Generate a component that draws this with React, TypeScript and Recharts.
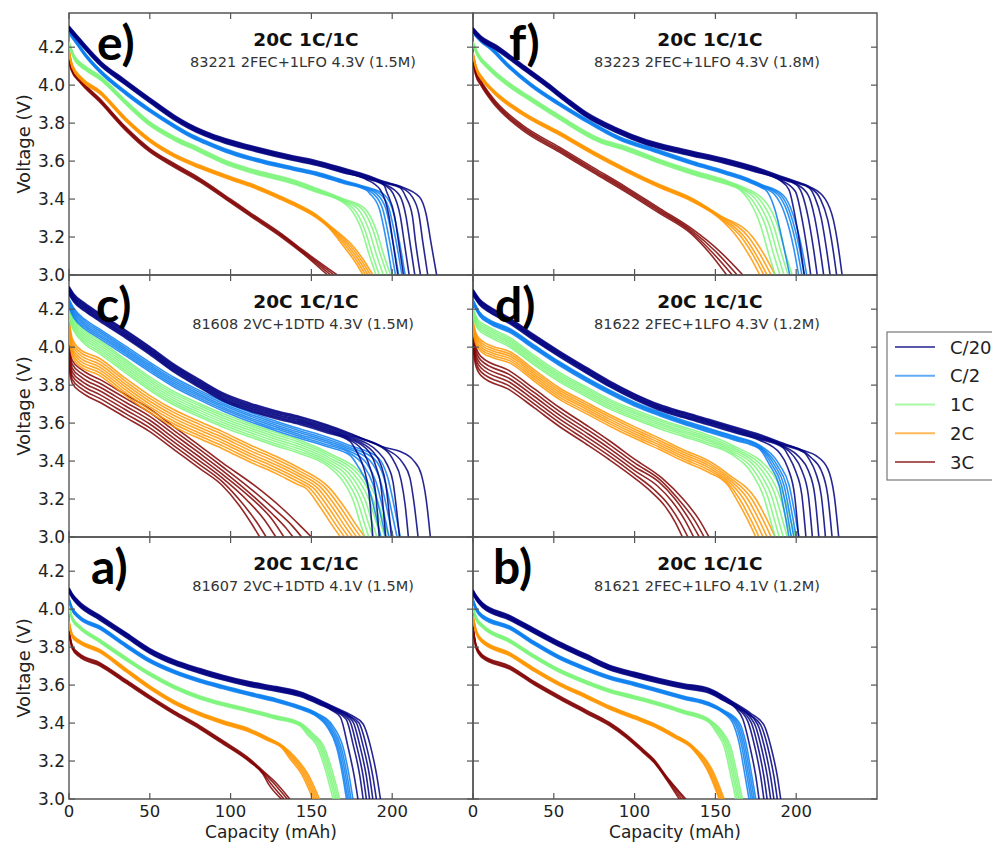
import { LineChart, Line, XAxis, YAxis, ReferenceArea } from 'recharts';

type Pt = [number, number];
interface Group { body: Pt[]; shift: number[]; tails: Pt[][] }

const RATES = ['C/20', 'C/2', '1C', '2C', '3C'];
const RATE_COLORS = ['#000080', '#0a7ff0', '#7cf57a', '#ff9500', '#800000'];
const X_TICKS = [0, 50, 100, 150, 200];
const Y_TICKS = [3.0, 3.2, 3.4, 3.6, 3.8, 4.0, 4.2];
const X_MAX = 250;
const Y_MIN = 3.0;
const Y_MAX = 4.38;
const TITLE = '20C 1C/1C';

// panel e) 83221
const E_C20: Group = {
  body: [[0, 4.3], [5, 4.25], [10, 4.2], [20, 4.11], [34, 4.02], [50, 3.92], [65, 3.83], [74, 3.785], [84, 3.745], [97, 3.705], [112, 3.67], [139, 3.615], [153, 3.59], [170, 3.55], [184, 3.515], [195, 3.48], [205, 3.455]],
  shift: [0.012, 0.008, 0.004, 0, -0.004, -0.008, -0.012],
  tails: [
    [[217, 3.41], [221, 3.32], [224, 3.17], [227.5, 3.0]],
    [[212.5, 3.41], [216.5, 3.32], [219, 3.17], [222, 3.0]],
    [[208.5, 3.41], [212.5, 3.31], [214.5, 3.17], [217.5, 3.0]],
    [[204.5, 3.42], [208.5, 3.31], [211, 3.17], [214, 3.0]],
    [[200.5, 3.43], [205, 3.31], [207.5, 3.17], [210.5, 3.0]],
    [[196.5, 3.44], [201.5, 3.31], [204, 3.17], [207, 3.0]],
    [[192.5, 3.45], [198, 3.31], [200.5, 3.17], [203.5, 3.0]],
  ],
};
const E_C2: Group = {
  body: [[0, 4.28], [5, 4.22], [10, 4.16], [19, 4.075], [35, 3.96], [50, 3.867], [65, 3.785], [74, 3.74], [84, 3.7], [97, 3.655], [112, 3.615], [139, 3.56], [153, 3.534], [170, 3.49], [184, 3.455]],
  shift: [0.008, 0.004, 0, -0.004, -0.008],
  tails: [
    [[194, 3.43], [200, 3.35], [205, 3.15], [208, 3.0]],
    [[192, 3.43], [198, 3.35], [203, 3.15], [206, 3.0]],
    [[190, 3.43], [196, 3.35], [201, 3.15], [204, 3.0]],
    [[188, 3.43], [194, 3.35], [199, 3.15], [202, 3.0]],
    [[186, 3.43], [192, 3.35], [197, 3.15], [200, 3.0]],
  ],
};
const E_1C: Group = {
  body: [[0, 4.22], [3, 4.15], [10, 4.09], [19, 4.04], [35, 3.91], [50, 3.797], [65, 3.72], [81, 3.657], [95, 3.6], [112, 3.55], [139, 3.49], [153, 3.447], [170, 3.39]],
  shift: [0.01, 0.005, 0, -0.005, -0.01],
  tails: [
    [[183, 3.35], [190, 3.24], [195, 3.1], [199, 3.0]],
    [[181, 3.35], [188, 3.24], [193, 3.1], [197, 3.0]],
    [[178.5, 3.35], [185.5, 3.24], [190.5, 3.1], [194.5, 3.0]],
    [[176, 3.35], [183, 3.24], [188, 3.1], [192, 3.0]],
    [[174, 3.35], [181, 3.24], [186, 3.1], [190, 3.0]],
  ],
};
const E_2C: Group = {
  body: [[0, 4.18], [2, 4.1], [8, 4.03], [19, 3.963], [35, 3.82], [50, 3.709], [65, 3.63], [81, 3.57], [100, 3.51], [112, 3.475], [130, 3.41], [139, 3.375], [153, 3.31], [161, 3.255]],
  shift: [0.008, 0.004, 0, -0.004, -0.008],
  tails: [
    [[176, 3.15], [183, 3.07], [188, 3.0]],
    [[174.5, 3.15], [181.5, 3.07], [186.5, 3.0]],
    [[173, 3.15], [180, 3.07], [185, 3.0]],
    [[171.5, 3.15], [178.5, 3.07], [183.5, 3.0]],
    [[170, 3.15], [177, 3.07], [182, 3.0]],
  ],
};
const E_3C: Group = {
  body: [[0, 4.13], [1.5, 4.086], [6.6, 4.025], [19, 3.92], [35, 3.771], [50, 3.657], [65, 3.578], [81, 3.5], [100, 3.39], [112, 3.32], [132, 3.205], [145, 3.12]],
  shift: [0.009, 0.003, -0.003, -0.009],
  tails: [[[166, 3.0]], [[164, 3.0]], [[162, 3.0]], [[160, 3.0]]],
};

// panel f) 83223
const F_C20: Group = {
  body: [[0, 4.29], [5, 4.245], [14, 4.2], [30, 4.1], [46, 4.0], [58, 3.92], [70, 3.845], [88, 3.765], [107, 3.7], [130, 3.65], [156, 3.6], [175, 3.555], [190, 3.51], [200, 3.48], [208, 3.455]],
  shift: [0.012, 0.008, 0.004, 0, -0.004, -0.008, -0.012],
  tails: [
    [[218, 3.4], [223, 3.29], [226, 3.15], [228.4, 3.0]],
    [[215, 3.4], [219.5, 3.29], [222.5, 3.15], [225, 3.0]],
    [[211.5, 3.41], [215.5, 3.3], [218.5, 3.15], [221, 3.0]],
    [[207.5, 3.42], [211.5, 3.3], [214.5, 3.15], [217, 3.0]],
    [[203.5, 3.43], [207.5, 3.3], [210.5, 3.15], [213, 3.0]],
    [[199.5, 3.44], [203.5, 3.3], [206.5, 3.15], [209, 3.0]],
    [[195.5, 3.45], [199.5, 3.3], [202.5, 3.15], [205, 3.0]],
  ],
};
const F_C2: Group = {
  body: [[0, 4.28], [5, 4.235], [10.3, 4.2], [22, 4.1], [36, 4.0], [53.5, 3.9], [67, 3.83], [90.5, 3.72], [113, 3.655], [136, 3.59], [156, 3.54], [170, 3.5], [178, 3.47]],
  shift: [0.008, 0.004, 0, -0.004, -0.008],
  tails: [
    [[192, 3.42], [198, 3.32], [203.5, 3.14], [206.5, 3.0]],
    [[190.5, 3.42], [196.5, 3.32], [202, 3.14], [205, 3.0]],
    [[189, 3.42], [195, 3.32], [200.5, 3.14], [203.5, 3.0]],
    [[187, 3.42], [193, 3.32], [198.5, 3.14], [201.5, 3.0]],
    [[182, 3.44], [187, 3.34], [192.5, 3.14], [196, 3.0]],
  ],
};
const F_1C: Group = {
  body: [[0, 4.22], [3, 4.16], [10, 4.09], [22.6, 4.0], [35, 3.93], [53.5, 3.83], [78, 3.71], [95, 3.665], [115, 3.6], [136, 3.54], [156, 3.49], [165, 3.46]],
  shift: [0.01, 0.005, 0, -0.005, -0.01],
  tails: [
    [[181.5, 3.38], [188.5, 3.26], [193.5, 3.11], [197.5, 3.0]],
    [[179, 3.38], [186, 3.26], [191, 3.11], [195, 3.0]],
    [[176.5, 3.38], [183.5, 3.26], [188.5, 3.11], [192.5, 3.0]],
    [[174, 3.38], [181, 3.26], [186, 3.11], [190, 3.0]],
    [[171, 3.39], [178, 3.26], [183, 3.11], [187, 3.0]],
  ],
};
const F_2C: Group = {
  body: [[0, 4.165], [2, 4.09], [6, 4.03], [12.3, 3.97], [30, 3.855], [53.5, 3.745], [75, 3.64], [94.7, 3.552], [115, 3.47], [136, 3.394], [152, 3.31]],
  shift: [0.008, 0.004, 0, -0.004, -0.008],
  tails: [
    [[173, 3.2], [180, 3.11], [187, 3.0]],
    [[170.5, 3.2], [177.5, 3.11], [184.5, 3.0]],
    [[168, 3.2], [175, 3.11], [182, 3.0]],
    [[166, 3.2], [173, 3.11], [180, 3.0]],
    [[163.5, 3.2], [170.5, 3.11], [177.5, 3.0]],
  ],
};
const F_3C: Group = {
  body: [[0, 4.14], [1.5, 4.07], [5, 4.01], [12.3, 3.92], [30, 3.78], [53.5, 3.66], [75, 3.55], [94.7, 3.45], [115, 3.34]],
  shift: [0.013, 0.004, -0.004, -0.013],
  tails: [
    [[136, 3.24], [152, 3.13], [167, 3.0]],
    [[136, 3.23], [150, 3.125], [163.5, 3.0]],
    [[136, 3.22], [148, 3.12], [160.5, 3.0]],
    [[136, 3.21], [146, 3.12], [157, 3.0]],
  ],
};

// panel c) 81608
const C_C20: Group = {
  body: [[0, 4.3], [3, 4.26], [10, 4.21], [19, 4.158], [35, 4.07], [50, 3.983], [65, 3.89], [81, 3.808], [95, 3.74], [112, 3.685], [128, 3.645], [142.7, 3.615], [160, 3.57], [173.7, 3.527], [196, 3.45]],
  shift: [0.02, 0.014, 0.008, 0.002, -0.004, -0.01, -0.016, -0.022],
  tails: [
    [[205, 3.45], [213, 3.405], [218, 3.33], [221, 3.2], [223.6, 3.0]],
    [[206.5, 3.39], [211, 3.31], [213.5, 3.18], [216, 3.0]],
    [[201, 3.4], [205.5, 3.3], [208, 3.17], [210, 3.0]],
    [[191, 3.45], [197, 3.38], [200.5, 3.29], [202.5, 3.16], [204.5, 3.0]],
    [[188, 3.45], [193, 3.38], [196, 3.28], [197.8, 3.15], [199.5, 3.0]],
    [[185.5, 3.45], [190, 3.37], [193, 3.27], [194.5, 3.15], [196, 3.0]],
    [[182, 3.45], [186.5, 3.36], [189.5, 3.25], [192, 3.0]],
    [[178, 3.45], [182.5, 3.36], [185.5, 3.24], [188, 3.0]],
  ],
};
const C_C2: Group = {
  body: [[0, 4.23], [3, 4.18], [10, 4.12], [19, 4.07], [35, 3.98], [50, 3.895], [65, 3.815], [81, 3.746], [95, 3.69], [112, 3.632], [128, 3.585], [142.7, 3.545], [160, 3.5], [173.7, 3.457]],
  shift: [0.025, 0.015, 0.005, -0.005, -0.015, -0.025],
  tails: [
    [[191, 3.42], [197, 3.32], [202, 3.13], [205, 3.0]],
    [[189, 3.41], [195, 3.31], [200, 3.12], [203, 3.0]],
    [[186.5, 3.4], [192.5, 3.3], [197.5, 3.12], [200.5, 3.0]],
    [[184, 3.39], [190, 3.29], [195, 3.12], [198, 3.0]],
    [[182, 3.38], [188, 3.28], [193, 3.11], [196, 3.0]],
    [[179, 3.37], [185, 3.27], [190, 3.11], [193, 3.0]],
  ],
};
const C_1C: Group = {
  body: [[0, 4.18], [3, 4.12], [10, 4.05], [19, 4.0], [35, 3.9], [50, 3.808], [65, 3.73], [81, 3.667], [95, 3.615], [112, 3.562], [128, 3.515], [142.7, 3.475], [160, 3.41]],
  shift: [0.035, 0.024, 0.012, 0, -0.012, -0.024, -0.035],
  tails: [
    [[184, 3.3], [191, 3.19], [195, 3.08], [198, 3.0]],
    [[181.5, 3.3], [188.5, 3.19], [192.5, 3.08], [195.5, 3.0]],
    [[179, 3.3], [186, 3.19], [190, 3.08], [193, 3.0]],
    [[176.5, 3.3], [183.5, 3.19], [187.5, 3.08], [190.5, 3.0]],
    [[174, 3.3], [181, 3.19], [185, 3.08], [188, 3.0]],
    [[171.5, 3.3], [178.5, 3.19], [182.5, 3.08], [185.5, 3.0]],
    [[169, 3.3], [176, 3.19], [180, 3.08], [183, 3.0]],
  ],
};
const C_2C: Group = {
  body: [[0, 4.1], [2, 4.0], [6, 3.95], [19, 3.895], [35, 3.79], [50, 3.7], [65, 3.625], [81, 3.562], [95, 3.51], [112, 3.44], [128, 3.38], [142.7, 3.317]],
  shift: [0.045, 0.03, 0.015, 0, -0.015, -0.03, -0.045],
  tails: [
    [[161, 3.26], [171, 3.15], [178, 3.06], [183, 3.0]],
    [[158.5, 3.26], [168.5, 3.15], [175.5, 3.06], [180.5, 3.0]],
    [[156, 3.26], [166, 3.15], [173, 3.06], [178, 3.0]],
    [[153.5, 3.26], [163.5, 3.15], [170.5, 3.06], [175.5, 3.0]],
    [[151, 3.26], [161, 3.15], [168, 3.06], [173, 3.0]],
    [[148.5, 3.26], [158.5, 3.15], [165.5, 3.06], [170.5, 3.0]],
    [[146, 3.26], [156, 3.15], [163, 3.06], [168, 3.0]],
  ],
};
const C_3C: Group = {
  body: [[0, 3.95], [2, 3.87], [8, 3.82], [19, 3.77], [35, 3.69], [50, 3.615], [65, 3.52], [81, 3.42], [95, 3.33]],
  shift: [0.06, 0.04, 0.02, 0, -0.02, -0.04, -0.06],
  tails: [
    [[115, 3.27], [132, 3.15], [143, 3.06], [150, 3.0]],
    [[113, 3.25], [128, 3.14], [138, 3.06], [144, 3.0]],
    [[112, 3.23], [126, 3.12], [134, 3.05], [138.6, 3.0]],
    [[112, 3.21], [125, 3.1], [133, 3.0]],
    [[110, 3.195], [121, 3.09], [128, 3.0]],
    [[107, 3.18], [116, 3.08], [122, 3.0]],
    [[105, 3.17], [113, 3.07], [118, 3.0]],
  ],
};

// panel d) 81622
const D_C20: Group = {
  body: [[0, 4.29], [4, 4.24], [10, 4.2], [22.6, 4.14], [38, 4.05], [53.5, 3.965], [70, 3.88], [84.4, 3.808], [100, 3.74], [115, 3.685], [130, 3.645], [146, 3.606], [162, 3.565], [177, 3.527], [192, 3.48], [205, 3.44]],
  shift: [0.014, 0.009, 0.004, -0.001, -0.006, -0.011, -0.016],
  tails: [
    [[212, 3.43], [219.5, 3.36], [223.5, 3.22], [226.3, 3.0]],
    [[209, 3.42], [215.5, 3.35], [219.5, 3.22], [222.2, 3.0]],
    [[208, 3.41], [212, 3.34], [215.5, 3.22], [218.1, 3.0]],
    [[202, 3.42], [207.5, 3.35], [211.5, 3.22], [214, 3.0]],
    [[198, 3.43], [203.5, 3.35], [207.5, 3.22], [210, 3.0]],
    [[195, 3.43], [199.5, 3.35], [203.5, 3.22], [206, 3.0]],
    [[190, 3.44], [195, 3.36], [199, 3.22], [201.5, 3.0]],
  ],
};
const D_C2: Group = {
  body: [[0, 4.24], [4, 4.175], [10, 4.135], [22.6, 4.088], [38, 4.0], [53.5, 3.913], [70, 3.83], [84.4, 3.764], [100, 3.7], [115, 3.65], [130, 3.605], [146, 3.562], [162, 3.52], [177, 3.475]],
  shift: [0.01, 0.005, 0, -0.005, -0.01],
  tails: [
    [[189.7, 3.38], [195.7, 3.27], [199.2, 3.12], [201.7, 3.0]],
    [[188, 3.38], [194, 3.27], [197.5, 3.12], [200, 3.0]],
    [[186.5, 3.38], [192.5, 3.27], [196, 3.12], [198.5, 3.0]],
    [[185, 3.38], [191, 3.27], [194.5, 3.12], [197, 3.0]],
    [[183.5, 3.38], [189.5, 3.27], [193, 3.12], [195.5, 3.0]],
  ],
};
const D_1C: Group = {
  body: [[0, 4.18], [3, 4.12], [10, 4.08], [22.6, 4.026], [38, 3.93], [53.5, 3.842], [70, 3.765], [84.4, 3.7], [100, 3.645], [115, 3.597], [130, 3.555], [146, 3.51], [160, 3.46]],
  shift: [0.025, 0.015, 0.005, -0.005, -0.015, -0.025],
  tails: [
    [[185.6, 3.33], [192.6, 3.21], [196.6, 3.09], [199.6, 3.0]],
    [[183, 3.33], [190, 3.21], [194, 3.09], [197, 3.0]],
    [[180.5, 3.33], [187.5, 3.21], [191.5, 3.09], [194.5, 3.0]],
    [[178, 3.33], [185, 3.21], [189, 3.09], [192, 3.0]],
    [[175.5, 3.33], [182.5, 3.21], [186.5, 3.09], [189.5, 3.0]],
    [[173, 3.33], [180, 3.21], [184, 3.09], [187, 3.0]],
  ],
};
const D_2C: Group = {
  body: [[0, 4.11], [2, 4.04], [6, 4.0], [12, 3.975], [22.6, 3.947], [38, 3.85], [53.5, 3.755], [70, 3.68], [84.4, 3.615], [100, 3.55], [115, 3.492], [130, 3.43], [146, 3.37], [158, 3.3]],
  shift: [0.03, 0.018, 0.006, -0.006, -0.018, -0.03],
  tails: [
    [[175, 3.2], [182, 3.09], [187, 3.0]],
    [[172.5, 3.2], [179.5, 3.09], [184.5, 3.0]],
    [[170, 3.2], [177, 3.09], [182, 3.0]],
    [[167.5, 3.2], [174.5, 3.09], [179.5, 3.0]],
    [[165, 3.2], [172, 3.09], [177, 3.0]],
    [[163, 3.2], [170, 3.09], [175, 3.0]],
  ],
};
const D_3C: Group = {
  body: [[0, 4.05], [1.5, 3.96], [5, 3.9], [22.6, 3.825], [38, 3.73], [53.5, 3.632], [70, 3.54], [84.4, 3.457], [100, 3.36]],
  shift: [0.05, 0.03, 0.01, -0.01, -0.03, -0.05],
  tails: [
    [[117, 3.31], [130, 3.2], [140, 3.09], [146, 3.0]],
    [[116, 3.3], [127, 3.2], [137, 3.09], [143, 3.0]],
    [[115, 3.29], [125, 3.2], [134, 3.09], [140, 3.0]],
    [[114, 3.27], [123, 3.19], [131, 3.09], [136.5, 3.0]],
    [[112, 3.25], [121, 3.17], [128, 3.08], [133, 3.0]],
    [[110, 3.24], [119, 3.16], [125, 3.08], [129.6, 3.0]],
  ],
};

// panel a) 81607
const A_C20: Group = {
  body: [[0, 4.1], [2, 4.07], [6, 4.03], [19, 3.955], [35, 3.865], [50, 3.78], [65, 3.72], [81, 3.675], [95, 3.64], [112, 3.605], [128, 3.58], [142.7, 3.553], [155, 3.51], [163.4, 3.475]],
  shift: [0.012, 0.008, 0.004, 0, -0.004, -0.008, -0.012],
  tails: [
    [[175, 3.44], [182, 3.395], [186.5, 3.28], [190.5, 3.12], [192.7, 3.0]],
    [[173, 3.44], [179.5, 3.4], [184, 3.28], [188, 3.12], [190.2, 3.0]],
    [[177.5, 3.405], [182, 3.28], [186, 3.12], [188, 3.0]],
    [[175.5, 3.41], [180, 3.28], [184, 3.12], [186, 3.0]],
    [[173.5, 3.415], [178, 3.28], [182, 3.12], [184, 3.0]],
    [[171.5, 3.42], [176, 3.28], [180, 3.12], [182, 3.0]],
    [[168, 3.43], [172.5, 3.28], [176.5, 3.12], [178.8, 3.0]],
  ],
};
const A_C2: Group = {
  body: [[0, 4.05], [2, 4.0], [6, 3.96], [19, 3.903], [35, 3.81], [50, 3.728], [65, 3.67], [81, 3.623], [95, 3.59], [112, 3.553], [128, 3.52], [142.7, 3.482], [152, 3.45]],
  shift: [0.008, 0.004, 0, -0.004, -0.008],
  tails: [
    [[163.7, 3.38], [169.7, 3.27], [173.2, 3.13], [175.7, 3.0]],
    [[162.5, 3.38], [168.5, 3.27], [172, 3.13], [174.5, 3.0]],
    [[161.5, 3.38], [167.5, 3.27], [171, 3.13], [173.5, 3.0]],
    [[160.5, 3.38], [166.5, 3.27], [170, 3.13], [172.5, 3.0]],
    [[159.7, 3.38], [165.7, 3.27], [169.2, 3.13], [171.7, 3.0]],
  ],
};
const A_1C: Group = {
  body: [[0, 4.01], [2, 3.95], [6, 3.91], [19, 3.833], [35, 3.74], [50, 3.658], [65, 3.59], [81, 3.535], [95, 3.5], [112, 3.465], [128, 3.43], [142.7, 3.395]],
  shift: [0.008, 0.004, 0, -0.004, -0.008],
  tails: [
    [[151.5, 3.34], [157.5, 3.28], [162.5, 3.16], [167.5, 3.0]],
    [[150.5, 3.34], [156.5, 3.28], [161.5, 3.16], [166.5, 3.0]],
    [[149.5, 3.34], [155.5, 3.28], [160.5, 3.16], [165.5, 3.0]],
    [[148.5, 3.34], [154.5, 3.28], [159.5, 3.16], [164.5, 3.0]],
    [[147.4, 3.34], [153.4, 3.28], [158.4, 3.16], [163.4, 3.0]],
  ],
};
const A_2C: Group = {
  body: [[0, 3.93], [2, 3.86], [6, 3.83], [19, 3.78], [35, 3.68], [50, 3.588], [65, 3.51], [81, 3.448], [95, 3.405], [112, 3.36], [122, 3.32], [132.4, 3.272]],
  shift: [0.008, 0.004, 0, -0.004, -0.008],
  tails: [
    [[140, 3.22], [148, 3.13], [155, 3.0]],
    [[139, 3.22], [147, 3.13], [154, 3.0]],
    [[138, 3.22], [146, 3.13], [153, 3.0]],
    [[137, 3.22], [145, 3.13], [152, 3.0]],
    [[136, 3.22], [144, 3.13], [151, 3.0]],
  ],
};
const A_3C: Group = {
  body: [[0, 3.88], [2, 3.8], [6, 3.76], [19, 3.71], [35, 3.62], [50, 3.535], [65, 3.455], [81, 3.377], [95, 3.3], [112, 3.202], [120, 3.14]],
  shift: [0.008, 0.003, -0.003, -0.008],
  tails: [
    [[128.6, 3.08], [136.6, 3.0]],
    [[127, 3.08], [135, 3.0]],
    [[125, 3.08], [133, 3.0]],
    [[123.4, 3.08], [131.4, 3.0]],
  ],
};

// panel b) 81621
const B_C20: Group = {
  body: [[0, 4.09], [2, 4.06], [6, 4.02], [22.6, 3.955], [38, 3.885], [53.5, 3.815], [70, 3.75], [84.4, 3.693], [100, 3.655], [115, 3.623], [130, 3.595], [146, 3.57], [155, 3.53], [162.6, 3.49]],
  shift: [0.012, 0.008, 0.004, 0, -0.004, -0.008, -0.012],
  tails: [
    [[172, 3.45], [180, 3.39], [184.5, 3.27], [188.3, 3.12], [190.4, 3.0]],
    [[170, 3.45], [178, 3.39], [182.5, 3.27], [186.2, 3.12], [188.3, 3.0]],
    [[176, 3.395], [180.5, 3.27], [184.1, 3.12], [186.2, 3.0]],
    [[174, 3.4], [178.5, 3.27], [182.1, 3.12], [184.2, 3.0]],
    [[172, 3.405], [176.5, 3.27], [180, 3.12], [182, 3.0]],
    [[170, 3.41], [174.5, 3.27], [178, 3.12], [180, 3.0]],
    [[167, 3.42], [171.5, 3.27], [175, 3.12], [177, 3.0]],
  ],
};
const B_C2: Group = {
  body: [[0, 4.045], [2, 4.0], [6, 3.96], [22.6, 3.903], [38, 3.82], [53.5, 3.745], [70, 3.685], [84.4, 3.64], [100, 3.605], [115, 3.57], [130, 3.535], [146, 3.5], [155, 3.46]],
  shift: [0.008, 0.004, 0, -0.004, -0.008],
  tails: [
    [[165, 3.4], [169, 3.29], [172, 3.15], [175, 3.0]],
    [[164, 3.4], [168, 3.29], [171, 3.15], [174, 3.0]],
    [[163, 3.4], [167, 3.29], [170, 3.15], [173, 3.0]],
    [[162, 3.4], [166, 3.29], [169, 3.15], [172, 3.0]],
    [[160.8, 3.4], [164.8, 3.29], [167.8, 3.15], [170.8, 3.0]],
  ],
};
const B_1C: Group = {
  body: [[0, 4.01], [2, 3.95], [6, 3.91], [22.6, 3.833], [38, 3.75], [53.5, 3.675], [70, 3.615], [84.4, 3.57], [100, 3.535], [115, 3.5], [130, 3.46], [146, 3.412]],
  shift: [0.008, 0.004, 0, -0.004, -0.008],
  tails: [
    [[154.7, 3.35], [159.7, 3.27], [163.2, 3.14], [166.7, 3.0]],
    [[153.7, 3.35], [158.7, 3.27], [162.2, 3.14], [165.7, 3.0]],
    [[152.7, 3.35], [157.7, 3.27], [161.2, 3.14], [164.7, 3.0]],
    [[151.7, 3.35], [156.7, 3.27], [160.2, 3.14], [163.7, 3.0]],
    [[150.6, 3.35], [155.6, 3.27], [159.1, 3.14], [162.6, 3.0]],
  ],
};
const B_2C: Group = {
  body: [[0, 3.96], [2, 3.88], [6, 3.83], [22.6, 3.763], [38, 3.68], [53.5, 3.605], [70, 3.54], [84.4, 3.482], [100, 3.43], [115, 3.377], [125, 3.33], [135.8, 3.272]],
  shift: [0.008, 0.004, 0, -0.004, -0.008],
  tails: [
    [[149.4, 3.13], [155.4, 3.0]],
    [[148.6, 3.13], [154.6, 3.0]],
    [[147.8, 3.13], [153.8, 3.0]],
    [[147, 3.13], [153, 3.0]],
    [[146.3, 3.13], [152.3, 3.0]],
  ],
};
const B_3C: Group = {
  body: [[0, 3.9], [2, 3.8], [6, 3.75], [22.6, 3.693], [38, 3.61], [53.5, 3.535], [70, 3.46], [84.4, 3.395], [95, 3.33], [105, 3.255], [112, 3.2], [119.4, 3.115]],
  shift: [0.008, 0.003, -0.003, -0.008],
  tails: [[[131.7, 3.0]], [[130.5, 3.0]], [[129, 3.0]], [[127.6, 3.0]]],
};

const PANELS = [
  { id: 'e', sub: '83221 2FEC+1LFO 4.3V (1.5M)', groups: [E_C20, E_C2, E_1C, E_2C, E_3C], col: 0, row: 0, letterDx: 28 },
  { id: 'f', sub: '83223 2FEC+1LFO 4.3V (1.8M)', groups: [F_C20, F_C2, F_1C, F_2C, F_3C], col: 1, row: 0, letterDx: 36 },
  { id: 'c', sub: '81608 2VC+1DTD 4.3V (1.5M)', groups: [C_C20, C_C2, C_1C, C_2C, C_3C], col: 0, row: 1, letterDx: 27 },
  { id: 'd', sub: '81622 2FEC+1LFO 4.3V (1.2M)', groups: [D_C20, D_C2, D_1C, D_2C, D_3C], col: 1, row: 1, letterDx: 22 },
  { id: 'a', sub: '81607 2VC+1DTD 4.1V (1.5M)', groups: [A_C20, A_C2, A_1C, A_2C, A_3C], col: 0, row: 2, letterDx: 22 },
  { id: 'b', sub: '81621 2FEC+1LFO 4.1V (1.2M)', groups: [B_C20, B_C2, B_1C, B_2C, B_3C], col: 1, row: 2, letterDx: 20 },
];

const PLOT_W = 404;
const PLOT_H = 262;
const COL_X = [69, 473];
const ROW_Y = [13, 275, 537];
const PAD = { l: 70, r: 12, t: 10, b: 56 };
const FONT = '"DejaVu Sans", sans-serif';
const FRAME = '#555';

// each cycle: shared body shifted by its offset, cut where its own knee starts
function cycles(g: Group) {
  return g.tails.map((tail, i) => {
    const start = tail[0][0];
    const head = g.body
      .filter((p) => p[0] < start)
      .map(([c, v]) => ({ c, v: +(v + g.shift[i]).toFixed(4) }));
    return head.concat(tail.map(([c, v]) => ({ c, v })));
  });
}

function xTick(props: any, labels: boolean) {
  const { x, y, payload } = props;
  return (
    <g>
      <line x1={x} x2={x} y1={y} y2={y - 6} stroke={FRAME} strokeWidth={1.2} />
      <line x1={x} x2={x} y1={y - PLOT_H} y2={y - PLOT_H + 6} stroke={FRAME} strokeWidth={1.2} />
      {labels && (
        <text x={x} y={y + 18} textAnchor="middle" fontSize={16.5} fill="#222" fontFamily={FONT}>
          {payload.value}
        </text>
      )}
    </g>
  );
}

function yTick(props: any, labels: boolean) {
  const { x, y, payload } = props;
  return (
    <g>
      <line x1={x} x2={x + 6} y1={y} y2={y} stroke={FRAME} strokeWidth={1.2} />
      <line x1={x + PLOT_W} x2={x + PLOT_W - 6} y1={y} y2={y} stroke={FRAME} strokeWidth={1.2} />
      {labels && (
        <text x={x - 4} y={y + 6} textAnchor="end" fontSize={17} fill="#222" fontFamily={FONT}>
          {Number(payload.value).toFixed(1)}
        </text>
      )}
    </g>
  );
}

function Panel({ p }: { p: (typeof PANELS)[number] }) {
  const left = COL_X[p.col];
  const top = ROW_Y[p.row];
  const bottomRow = p.row === 2;
  const firstCol = p.col === 0;

  const lines: any[] = [];
  for (let r = RATES.length - 1; r >= 0; r--) {
    cycles(p.groups[r]).forEach((pts, i) => {
      lines.push(
        <Line
          key={`${r}-${i}`}
          data={pts}
          dataKey="v"
          type="monotone"
          stroke={RATE_COLORS[r]}
          strokeWidth={1.6}
          strokeOpacity={0.85}
          dot={false}
          activeDot={false}
          isAnimationActive={false}
        />
      );
    });
  }

  return (
    <div style={{ position: 'absolute', left: left - PAD.l, top: top - PAD.t }}>
      <LineChart
        width={PAD.l + PLOT_W + PAD.r}
        height={PAD.t + PLOT_H + PAD.b}
        margin={{ top: PAD.t, right: PAD.r, bottom: 0, left: 0 }}
      >
        <XAxis
          type="number"
          dataKey="c"
          domain={[0, X_MAX]}
          ticks={X_TICKS}
          interval={0}
          allowDataOverflow
          height={PAD.b}
          axisLine={false}
          tickLine={false}
          tickSize={0}
          tickMargin={0}
          tick={(props: any) => xTick(props, bottomRow)}
          label={
            bottomRow
              ? { value: 'Capacity (mAh)', position: 'insideBottom', offset: 17, fontSize: 17, fill: '#222', fontFamily: FONT }
              : undefined
          }
        />
        <YAxis
          type="number"
          domain={[Y_MIN, Y_MAX]}
          ticks={Y_TICKS}
          interval={0}
          allowDataOverflow
          width={PAD.l}
          axisLine={false}
          tickLine={false}
          tickSize={0}
          tickMargin={0}
          tick={(props: any) => yTick(props, firstCol)}
          label={
            firstCol
              ? {
                  value: 'Voltage (V)',
                  angle: -90,
                  position: 'insideLeft',
                  offset: 25,
                  textAnchor: 'middle',
                  fontSize: 18,
                  fill: '#222',
                  fontFamily: FONT,
                  style: { textAnchor: 'middle' },
                }
              : undefined
          }
        />
        {lines}
        <ReferenceArea
          x1={0}
          x2={X_MAX}
          y1={Y_MIN}
          y2={Y_MAX}
          fill="none"
          fillOpacity={0}
          stroke={FRAME}
          strokeWidth={1.4}
          ifOverflow="visible"
        />
      </LineChart>
    </div>
  );
}

function Annotations() {
  return (
    <svg
      width={992}
      height={842}
      style={{ position: 'absolute', left: 0, top: 0, pointerEvents: 'none' }}
    >
      {PANELS.map((p) => {
        const left = COL_X[p.col];
        const top = ROW_Y[p.row];
        return (
          <g key={p.id}>
            <text x={left + p.letterDx} y={top + 47} fontSize={48} fontWeight={700} fontFamily="Lato, sans-serif" fill="#000">
              {p.id})
            </text>
            <text x={left + 237} y={top + 33} textAnchor="middle" fontSize={18.5} fontWeight={700} fontFamily={FONT} fill="#111">
              {TITLE}
            </text>
            <text x={left + 234} y={top + 54} textAnchor="middle" fontSize={14.5} fontFamily={FONT} fill="#333">
              {p.sub}
            </text>
          </g>
        );
      })}
      <rect x={887} y={332} width={120} height={148} fill="#fff" stroke="#777" strokeWidth={1.2} />
      {RATES.map((name, i) => {
        const y = 347 + i * 28.75;
        return (
          <g key={name}>
            <line x1={895} x2={935} y1={y} y2={y} stroke={RATE_COLORS[i]} strokeOpacity={0.65} strokeWidth={2} />
            <text x={950} y={y + 6.5} fontSize={18} fontFamily={FONT} fill="#222">
              {name}
            </text>
          </g>
        );
      })}
    </svg>
  );
}

export default function App() {
  return (
    <div
      style={{
        position: 'absolute',
        left: 0,
        top: 0,
        width: 992,
        height: 842,
        overflow: 'hidden',
        background: '#fff',
      }}
    >
      {PANELS.map((p) => (
        <Panel key={p.id} p={p} />
      ))}
      <Annotations />
    </div>
  );
}
